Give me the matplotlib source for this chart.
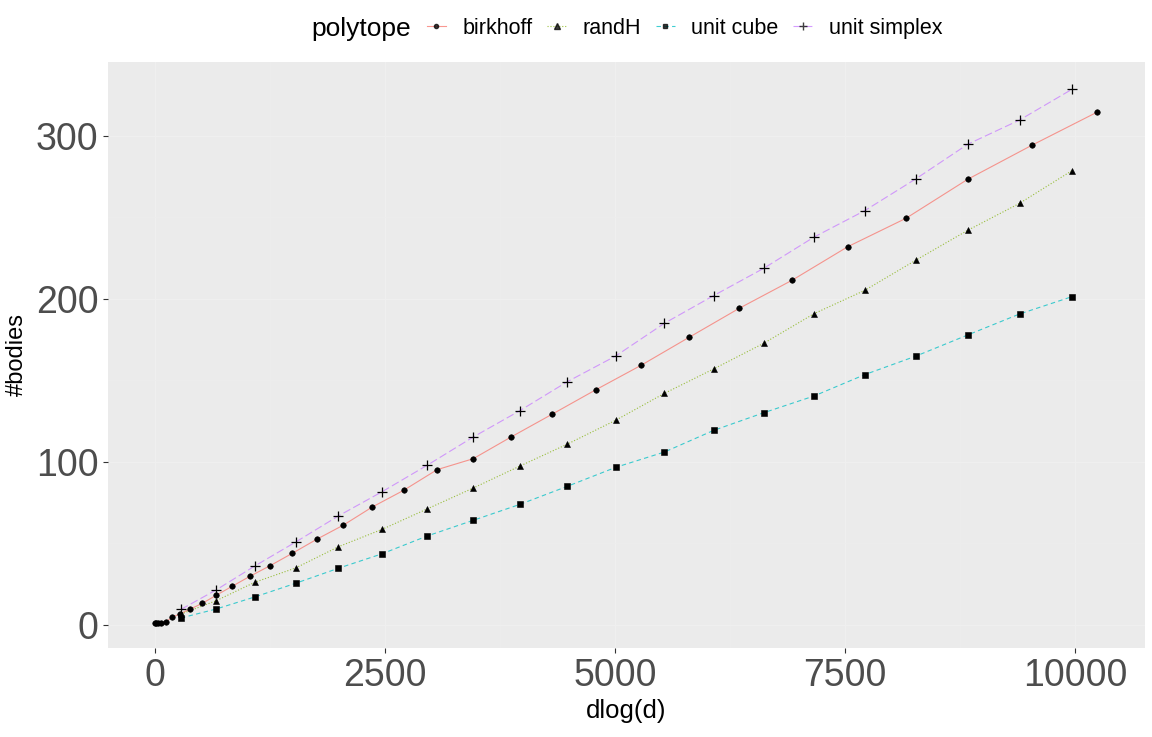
import matplotlib
matplotlib.use('Agg')
import matplotlib.pyplot as plt
from matplotlib.lines import Line2D

plt.rcParams['font.family'] = ['Liberation Sans', 'DejaVu Sans']

# birkhoff polytope
birk_x = [0, 8, 28, 64, 116, 186, 275, 384, 514, 664, 837, 1032, 1251, 1493,
          1758, 2048, 2362, 2702, 3066, 3458, 3869, 4316, 4788, 5283, 5806,
          6351, 6925, 7531, 8163, 8833, 9531, 10240]
birk_y = [1, 1, 1, 1.5, 2, 4.7, 7, 9.8, 13.3, 18.2, 23.7, 29.9, 36.4, 44,
          52.6, 61.3, 72.4, 82.6, 95.3, 102, 115.3, 129.3, 144.2, 159.3, 176.5,
          194.3, 211.5, 232.1, 249.5, 273.4, 294.3, 314.6]

# the other three share the same dlog(d) values
grid_x = [282, 664, 1084, 1529, 1993, 2469, 2958, 3458, 3966, 4483, 5007,
          5537, 6073, 6616, 7164, 7715, 8273, 8833, 9398, 9966]
randh_y = [6.7, 14.9, 26.2, 35, 48, 58.7, 71.2, 84, 97.5, 111, 125.6, 142.1,
           157.1, 172.8, 191, 205.3, 223.9, 242.1, 258.7, 278.7]
cube_y = [4.3, 9.8, 17.2, 25.6, 34.8, 43.7, 54.6, 64.2, 74, 85.1, 96.7, 106.1,
          119.4, 130.2, 140.5, 153.6, 165, 177.9, 190.8, 201.4]
simplex_y = [9.6, 21.5, 36.2, 50.9, 66.9, 81.8, 98, 115.3, 131.5, 149.3, 165,
             185.1, 202.1, 218.8, 238, 254.2, 273.8, 294.9, 309.8, 328.6]

names = ['birkhoff', 'randH', 'unit cube', 'unit simplex']
colors = ['#F8766D', '#7CAE00', '#00BFC4', '#C77CFF']
styles = ['-', ':', (0, (4, 3)), (0, (7, 3))]
markers = ['o', '^', 's', '+']
msizes = [4, 5, 4, 7.5]

series = [(birk_x, birk_y), (grid_x, randh_y), (grid_x, cube_y), (grid_x, simplex_y)]

fig = plt.figure(figsize=(11.52, 7.37), dpi=100)
ax = fig.add_axes([0.0938, 0.1208, 0.9001, 0.7951])
ax.set_facecolor('#EBEBEB')

handles = []
for (xs, ys), name, c, ls, m, ms in zip(series, names, colors, styles, markers, msizes):
    ax.plot(xs, ys, color=c, linestyle=ls, linewidth=0.8, alpha=0.75, zorder=2)
    ax.plot(xs, ys, linestyle='none', marker=m, markersize=ms, color='black',
            markeredgewidth=0.9 if m == '+' else 0.4, zorder=3)
    handles.append(Line2D([], [], color=c, linestyle=ls, linewidth=0.8, alpha=0.75,
                          marker=m, markersize=ms * 0.75, markerfacecolor='black',
                          markeredgecolor='black'))

ax.set_xlim(-511, 10761)
ax.set_ylim(-14.1, 345.4)
ax.set_xticks([0, 2500, 5000, 7500, 10000])
ax.set_yticks([0, 100, 200, 300])
ax.set_xticks([1250, 3750, 6250, 8750], minor=True)
ax.set_yticks([50, 150, 250], minor=True)
ax.grid(which='major', color='#EFEFEF', linewidth=1.0, zorder=0)
ax.grid(which='minor', color='#EDEDED', linewidth=0.5, zorder=0)
ax.set_axisbelow(True)
ax.tick_params(axis='both', which='major', labelsize=27, labelcolor='#4D4D4D',
               color='#333333', length=3.5, width=0.8)
ax.tick_params(axis='both', which='minor', length=0)
for s in ax.spines.values():
    s.set_visible(False)

ax.set_xlabel('dlog(d)', fontsize=18.5, labelpad=4)
ax.set_ylabel('#bodies', fontsize=17, labelpad=6)

fig.text(0.270, 0.960, 'polytope', fontsize=19, va='center', ha='left')
leg = fig.legend(handles, names, loc='center left', bbox_to_anchor=(0.363, 0.962),
                 ncol=4, frameon=False, fontsize=15.5, handlelength=0.9,
                 handletextpad=0.75, columnspacing=0.68, borderaxespad=0)

fig.savefig('out.png', dpi=100, facecolor='white')
